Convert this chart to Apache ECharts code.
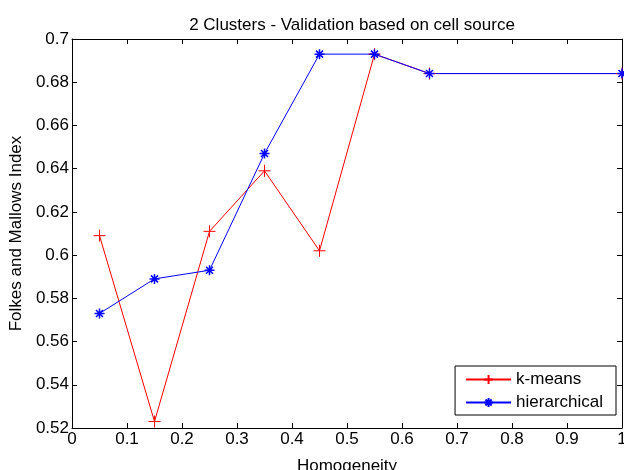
<!DOCTYPE html>
<html><head><meta charset="utf-8">
<script src="https://cdn.jsdelivr.net/npm/echarts@6/dist/echarts.min.js"></script>
<style>html,body{margin:0;padding:0;background:#fff}#c{width:624px;height:470px}</style>
</head><body><div id="c"></div>
<script>
const xValues = [0.05, 0.15, 0.25, 0.35, 0.45, 0.55, 0.65, 1.0];
const kmeans = [0.609, 0.523, 0.611, 0.639, 0.602, 0.693, 0.684, 0.684];
const hierarchical = [0.573, 0.589, 0.593, 0.647, 0.693, 0.693, 0.684, 0.684];
const seriesNames = ['k-means', 'hierarchical'];
const titleText = '2 Clusters - Validation based on cell source';
const xName = 'Homogeneity';
const yName = 'Folkes and Mallows Index';

const plus = 'path://M0,-5L0,5M-5,0L5,0';
const star = 'path://M0,-5L0,5M-5,0L5,0M-3.5,-3.5L3.5,3.5M-3.5,3.5L3.5,-3.5';
const font = 'Liberation Sans, Arial, sans-serif';
const fs = 17;
const chart = echarts.init(document.getElementById('c'), null, {renderer: 'canvas'});
const axisCommon = {
  axisLine: {show: true, onZero: false, lineStyle: {color: '#000', width: 1}},
  axisTick: {show: true, inside: true, length: 5, lineStyle: {color: '#000'}},
  splitLine: {show: false}
};
chart.setOption({
  animation: false,
  backgroundColor: '#fff',
  title: {text: titleText, left: 347, textAlign: 'center', top: 12, textStyle: {fontFamily: font, fontSize: fs, fontWeight: 'normal', color: '#000'}},
  grid: {left: 72, right: 2, top: 39, bottom: 42, containLabel: false, outerBoundsMode: 'none'},
  legend: {
    data: seriesNames, orient: 'vertical', right: 8, bottom: 55,
    backgroundColor: '#fff', borderColor: '#000', borderWidth: 1, borderRadius: 0,
    padding: [5, 13, 4, 10], itemGap: 6, itemWidth: 45, itemHeight: 11,
    textStyle: {fontFamily: font, fontSize: fs, color: '#000'}
  },
  xAxis: [
    Object.assign({type: 'value', min: 0, max: 1, interval: 0.1, position: 'bottom',
      name: xName, nameLocation: 'middle', nameGap: 30,
      nameTextStyle: {fontFamily: font, fontSize: fs, color: '#000'},
      axisLabel: {fontFamily: font, fontSize: fs, color: '#000', margin: 3,
        formatter: v => String(Math.round(v * 10) / 10)}}, axisCommon),
    Object.assign({type: 'value', min: 0, max: 1, interval: 0.1, position: 'top',
      axisLabel: {show: false}}, axisCommon)
  ],
  yAxis: [
    Object.assign({type: 'value', min: 0.52, max: 0.7, interval: 0.02, position: 'left',
      name: yName, nameLocation: 'middle', nameGap: 44, nameRotate: 90,
      nameTextStyle: {fontFamily: font, fontSize: fs, color: '#000'},
      axisLabel: {fontFamily: font, fontSize: fs, color: '#000', margin: 3,
        formatter: v => String(Math.round(v * 100) / 100)}}, axisCommon),
    Object.assign({type: 'value', min: 0.52, max: 0.7, interval: 0.02, position: 'right',
      axisLabel: {show: false}}, axisCommon)
  ],
  series: [
    {name: seriesNames[0], type: 'line', xAxisIndex: 0, yAxisIndex: 0,
      data: xValues.map((x, i) => [x, kmeans[i]]),
      symbol: plus, symbolSize: 12, showAllSymbol: true,
      lineStyle: {color: '#ff0000', width: 1},
      itemStyle: {color: 'none', borderColor: '#ff0000', borderWidth: 1},
      color: '#ff0000'},
    {name: seriesNames[1], type: 'line', xAxisIndex: 0, yAxisIndex: 0,
      data: xValues.map((x, i) => [x, hierarchical[i]]),
      symbol: star, symbolSize: 10, showAllSymbol: true,
      lineStyle: {color: '#0000ff', width: 1},
      itemStyle: {color: 'none', borderColor: '#0000ff', borderWidth: 1.5},
      color: '#0000ff'}
  ]
});
</script></body></html>
